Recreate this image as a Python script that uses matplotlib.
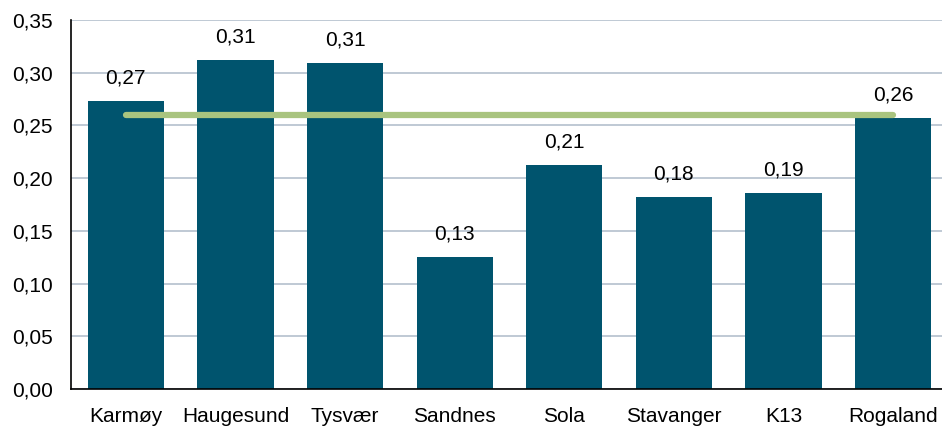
import matplotlib
matplotlib.use("Agg")
import matplotlib.pyplot as plt
from matplotlib.ticker import FuncFormatter

categories = ["Karmøy", "Haugesund", "Tysvær", "Sandnes", "Sola", "Stavanger", "K13", "Rogaland"]
values = [0.273, 0.312, 0.309, 0.125, 0.212, 0.182, 0.186, 0.257]
labels = ["0,27", "0,31", "0,31", "0,13", "0,21", "0,18", "0,19", "0,26"]
reference_level = 0.26

plt.rcParams['font.family'] = ['Liberation Sans', 'DejaVu Sans']

fig = plt.figure(figsize=(9.42, 4.26), dpi=100)
ax = fig.add_axes([71/942, 37/426, 877/942, 369/426])

x = list(range(len(categories)))
bars = ax.bar(x, values, width=0.695, color="#00546e", zorder=2)
ax.plot([x[0], x[-1]], [reference_level, reference_level], color="#a9c47f",
        linewidth=4.5, solid_capstyle="round", zorder=3)

for xi, v, lab in zip(x, values, labels):
    ax.annotate(lab, (xi, v), xytext=(0, 10), textcoords="offset points",
                ha="center", va="bottom", fontsize=15)

ax.set_xlim(-0.5, len(categories) - 0.5)
ax.set_ylim(0, 0.35)
ax.set_yticks([i * 0.05 for i in range(8)])
ax.yaxis.set_major_formatter(FuncFormatter(lambda v, p: f"{v:.2f}".replace(".", ",")))
ax.set_xticks(x)
ax.set_xticklabels(categories)
ax.tick_params(axis="both", length=0, labelsize=15)
ax.tick_params(axis="y", pad=13)
ax.tick_params(axis="x", pad=13)
ax.grid(axis="y", color="#b4c0cd", linewidth=1.2, zorder=0)
ax.set_axisbelow(True)
for s in ["top", "right"]:
    ax.spines[s].set_visible(False)
ax.spines["left"].set_color("black")
ax.spines["bottom"].set_color("black")
ax.spines["left"].set_linewidth(1.2)
ax.spines["bottom"].set_linewidth(1.2)

fig.savefig("out.png", dpi=100)
